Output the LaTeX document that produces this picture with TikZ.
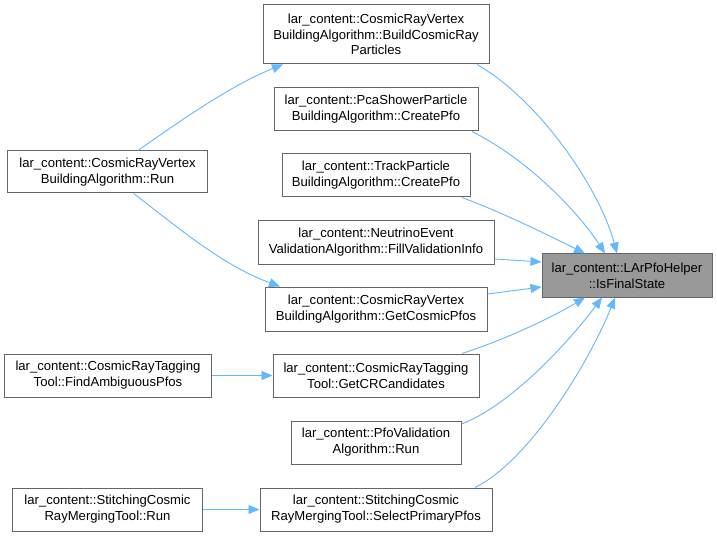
\documentclass[tikz,border=0pt]{standalone}
\usepackage{fontspec}
\setmainfont{Liberation Sans}
\usetikzlibrary{arrows.meta}
\definecolor{edgeblue}{HTML}{63B8FF}
\definecolor{boxgray}{HTML}{666666}
\definecolor{targetfill}{HTML}{999999}
\begin{document}
\begin{tikzpicture}[x=1bp,y=-1bp,
  fn/.style={draw=boxgray,line width=1bp,fill=white,inner sep=0pt,align=center,
    font=\fontsize{13.1bp}{15.8bp}\selectfont},
  tgt/.style={fn,fill=targetfill},
  edge/.style={draw=edgeblue,line width=0.9bp,-{Triangle[length=11bp,width=9bp]}}]
\useasboundingbox (0,0) rectangle (717,536);
\fill[white] (0,0) rectangle (717,536);
\node[fn,minimum width=226bp,minimum height=59bp] (build) at (376,34.5) {lar\_content::CosmicRayVertex\\BuildingAlgorithm::BuildCosmicRay\\Particles};
\node[fn,minimum width=204bp,minimum height=43bp] (pca) at (376,109.5) {lar\_content::PcaShowerParticle\\BuildingAlgorithm::CreatePfo};
\node[fn,minimum width=188bp,minimum height=43bp] (track) at (376,175.5) {lar\_content::TrackParticle\\BuildingAlgorithm::CreatePfo};
\node[fn,minimum width=236bp,minimum height=43bp] (neut) at (376,242.5) {lar\_content::NeutrinoEvent\\ValidationAlgorithm::FillValidationInfo};
\node[fn,minimum width=222bp,minimum height=44bp] (cosm) at (376,309) {lar\_content::CosmicRayVertex\\BuildingAlgorithm::GetCosmicPfos};
\node[fn,minimum width=206bp,minimum height=43bp] (crc) at (376,375.5) {lar\_content::CosmicRayTagging\\Tool::GetCRCandidates};
\node[fn,minimum width=170bp,minimum height=43bp] (pfov) at (376,442.5) {lar\_content::PfoValidation\\Algorithm::Run};
\node[fn,minimum width=232bp,minimum height=43bp] (sel) at (376,509.5) {lar\_content::StitchingCosmic\\RayMergingTool::SelectPrimaryPfos};
\node[fn,minimum width=199bp,minimum height=42bp] (run) at (107.5,172) {lar\_content::CosmicRayVertex\\BuildingAlgorithm::Run};
\node[fn,minimum width=206bp,minimum height=43bp] (find) at (108,375.5) {lar\_content::CosmicRayTagging\\Tool::FindAmbiguousPfos};
\node[fn,minimum width=189bp,minimum height=43bp] (strun) at (107.5,509.5) {lar\_content::StitchingCosmic\\RayMergingTool::Run};
\node[tgt,minimum width=170bp,minimum height=43bp] (target) at (627,275.5) {lar\_content::LArPfoHelper\\::IsFinalState};

\draw[edge] ([xshift=101bp]build.south) .. controls +(63,36) and +(-17,-64) .. ([xshift=-10bp]target.north);
\draw[edge] ([xshift=96bp]pca.south) .. controls +(58,29) and +(-25,-39) .. ([xshift=-22bp]target.north);
\draw[edge] ([xshift=86bp]track.south) .. controls +(40,15) and +(-40,-20) .. ([xshift=-42bp]target.north);
\draw[edge] ([yshift=-16.5bp]neut.east) -- ([yshift=13.5bp]target.west);
\draw[edge] ([yshift=15bp]cosm.east) -- ([yshift=-11.5bp]target.west);
\draw[edge] ([xshift=86bp]crc.north) .. controls +(43,-14) and +(-35,21) .. ([xshift=-42bp]target.south);
\draw[edge] ([yshift=18.5bp]pfov.east) .. controls +(50,-19) and +(-32,43) .. ([xshift=-25bp]target.south);
\draw[edge] ([xshift=99bp]sel.north) .. controls +(55,-27) and +(-25,63) .. ([xshift=-12bp]target.south);
\draw[edge] ([xshift=30.5bp]run.north) .. controls +(37,-26) and +(-53,21) .. ([xshift=-93bp]build.south);
\draw[edge] ([xshift=26bp]run.south) .. controls +(40,30) and +(-60,-22) .. ([xshift=-96bp]cosm.north);
\draw[edge] (find.east) -- (crc.west);
\draw[edge] (strun.east) -- (sel.west);
\end{tikzpicture}
\end{document}
